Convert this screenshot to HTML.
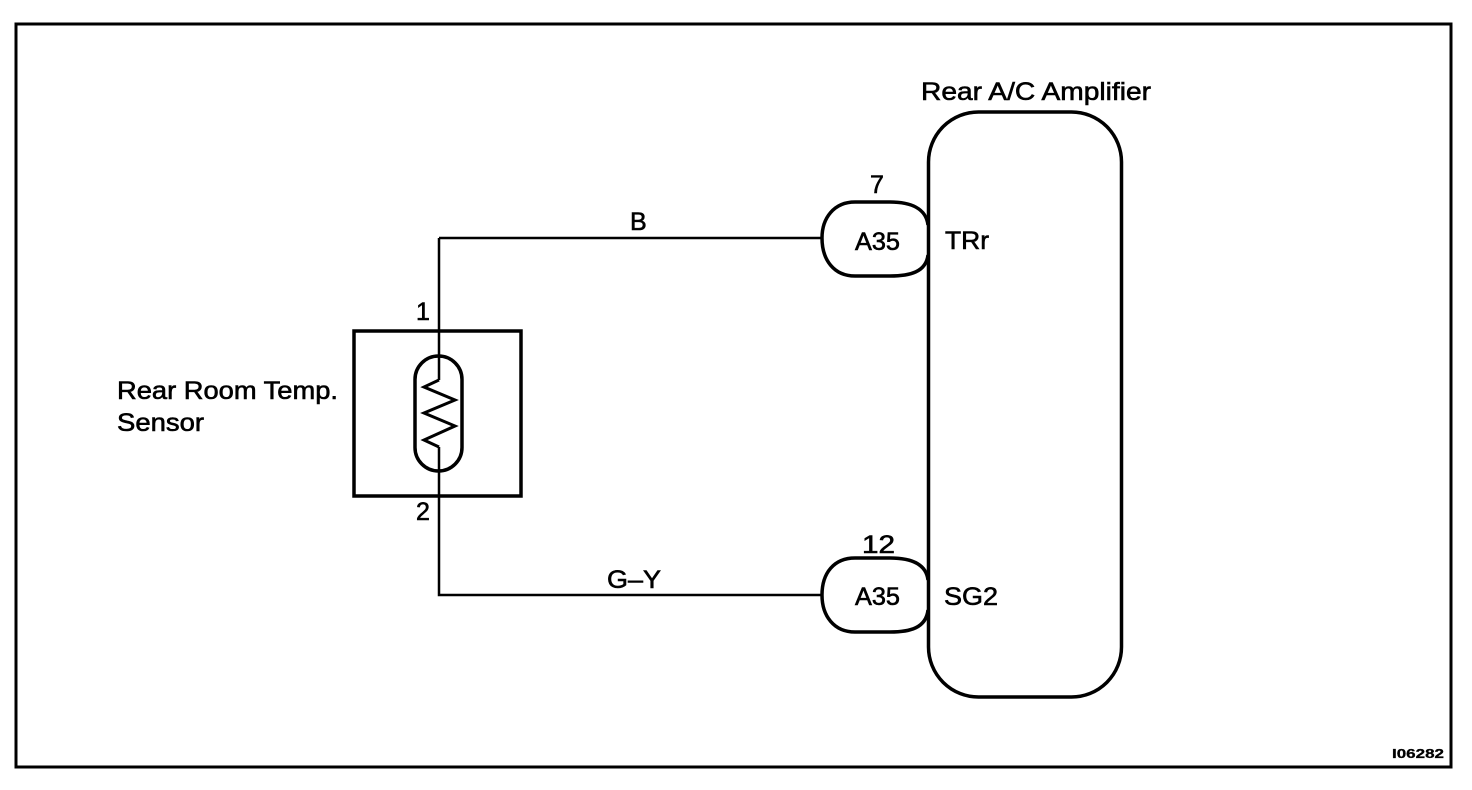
<!DOCTYPE html>
<html><head><style>html,body{margin:0;padding:0;background:#fff;}svg{display:block;}</style></head>
<body>
<svg width="1472" height="790" viewBox="0 0 1472 790" xmlns="http://www.w3.org/2000/svg" font-family="Liberation Sans, Arial, sans-serif" fill="none" stroke="#000">
<rect x="16" y="24" width="1435" height="743" stroke-width="3"/>
<rect x="928.5" y="112" width="193" height="585" rx="50" ry="50" stroke-width="3.5"/>
<path d="M439 238 H821 M439 238 V380 M439 447 V595 H821" stroke-width="2.5"/>
<rect x="354" y="331" width="167" height="165" stroke-width="3.5"/>
<rect x="415" y="356" width="47" height="115" rx="23.5" ry="23.5" stroke-width="3.5"/>
<path d="M439 380 L424 387 L455 400 L424 413 L455 426 L424 440 L439 447" stroke-width="3"/>
<path d="M928 225 C926 208 910 202 890 202 H855 C834 202 822 218 822 238 C822 260 834 276 855 276 H890 C910 276 926 272 928 255" stroke-width="3.5"/>
<path d="M928 580 C926 563 910 558 890 558 H855 C834 558 822 573 822 595 C822 616 834 632 855 632 H890 C910 632 926 628 928 610" stroke-width="3.5"/>
<g fill="#000" stroke="#000" stroke-width="0.6" font-size="25">
<text x="921" y="100" textLength="230" lengthAdjust="spacingAndGlyphs">Rear A/C Amplifier</text>
<text x="117" y="399" textLength="221" lengthAdjust="spacingAndGlyphs">Rear Room Temp.</text>
<text x="117" y="431" textLength="87" lengthAdjust="spacingAndGlyphs">Sensor</text>
<text x="630" y="230">B</text>
<text x="607" y="588" textLength="54" lengthAdjust="spacingAndGlyphs">G–Y</text>
<text x="870" y="193">7</text>
<text x="862" y="553" textLength="33" lengthAdjust="spacingAndGlyphs">12</text>
<text x="855" y="250" textLength="45" lengthAdjust="spacingAndGlyphs">A35</text>
<text x="855" y="605" textLength="45" lengthAdjust="spacingAndGlyphs">A35</text>
<text x="945" y="249" textLength="44" lengthAdjust="spacingAndGlyphs">TRr</text>
<text x="944" y="605" textLength="54" lengthAdjust="spacingAndGlyphs">SG2</text>
<text x="416" y="320">1</text>
<text x="416" y="520">2</text>
<text x="1392" y="758" font-size="13" stroke-width="0.3" font-weight="bold" textLength="52" lengthAdjust="spacingAndGlyphs">I06282</text>
</g>
</svg>
</body></html>
